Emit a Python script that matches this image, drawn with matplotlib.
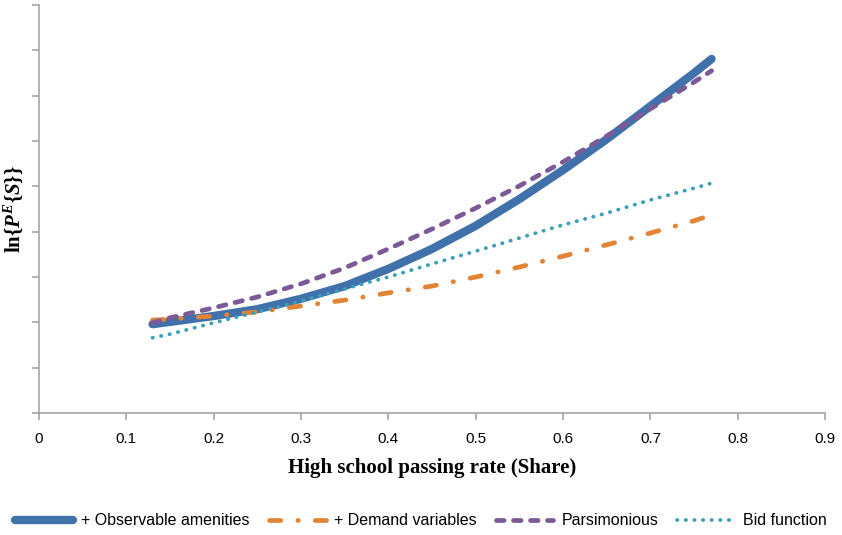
import matplotlib.pyplot as plt

# passing rate (share) at which the curves were read
x_share = [0.13, 0.15, 0.2, 0.25, 0.3, 0.35, 0.4, 0.45, 0.5,
           0.55, 0.6, 0.65, 0.7, 0.75, 0.77]

# ln{P^E{S}} (arbitrary units, tick spacing = 1)
obs_amenities = [1.96, 2.01, 2.14, 2.29, 2.52, 2.80, 3.18, 3.62, 4.13,
                 4.72, 5.36, 6.04, 6.77, 7.50, 7.81]
demand_vars = [2.05, 2.07, 2.14, 2.23, 2.36, 2.49, 2.65, 2.80, 3.00,
               3.22, 3.46, 3.71, 3.97, 4.24, 4.37]
parsimonious = [1.99, 2.10, 2.32, 2.56, 2.85, 3.20, 3.62, 4.06, 4.52,
                5.01, 5.54, 6.11, 6.71, 7.30, 7.55]
bid_function = [1.66, 1.74, 1.99, 2.23, 2.47, 2.74, 3.00, 3.29, 3.57,
                3.86, 4.15, 4.41, 4.70, 4.96, 5.07]

x_ticks = [0, 0.1, 0.2, 0.3, 0.4, 0.5, 0.6, 0.7, 0.8, 0.9]

plt.rcParams["font.family"] = "Liberation Sans"
plt.rcParams["mathtext.fontset"] = "custom"
plt.rcParams["mathtext.rm"] = "Liberation Serif:bold"
plt.rcParams["mathtext.it"] = "Liberation Serif:italic:bold"

fig = plt.figure(figsize=(8.42, 5.35), dpi=100)
ax = fig.add_axes([0.0463, 0.228, 0.9337, 0.7627])

ax.plot(x_share, obs_amenities, color="#4171AA", lw=6, solid_capstyle="round",
        solid_joinstyle="round", label="+ Observable amenities")
ax.plot(x_share, demand_vars, color="#E38435", lw=3.4, dashes=(2.4, 3.6, 0.1, 3.6),
        dash_capstyle="round", label="+ Demand variables")
ax.plot(x_share, parsimonious, color="#7B5A97", lw=3.4, dashes=(1.6, 2.0),
        dash_capstyle="round", label="Parsimonious")
ax.plot(x_share, bid_function, color="#3A9EB8", lw=2.7, dashes=(0.1, 2.2),
        dash_capstyle="round", label="Bid function")

ax.set_xlim(0, 0.9)
ax.set_ylim(0, 9)
ax.set_xticks(x_ticks)
ax.set_xticklabels([f"{t:g}" for t in x_ticks], fontsize=11)
ax.set_yticks(range(0, 10))
ax.set_yticklabels([])

for s in ["top", "right"]:
    ax.spines[s].set_visible(False)
for s in ["left", "bottom"]:
    ax.spines[s].set_color("#A6A6A6")
    ax.spines[s].set_linewidth(1.2)
ax.tick_params(axis="both", direction="out", length=5, width=1.2, color="#A6A6A6")
ax.tick_params(axis="x", pad=9)

ax.set_xlabel("High school passing rate (Share)", family="Liberation Serif",
              fontweight="bold", fontsize=15, labelpad=8)
ax.set_ylabel(r"$\mathrm{ln}\{P^{E}\{S\}\}$", fontsize=15)
ax.yaxis.set_label_coords(-0.018, 0.5)

fig.legend(loc="lower center", bbox_to_anchor=(0.5, -0.014), ncol=4, frameon=False,
           prop={"size": 11.5}, handlelength=3.6, columnspacing=1.2,
           handletextpad=0.5)

fig.savefig("out.png", dpi=100)
